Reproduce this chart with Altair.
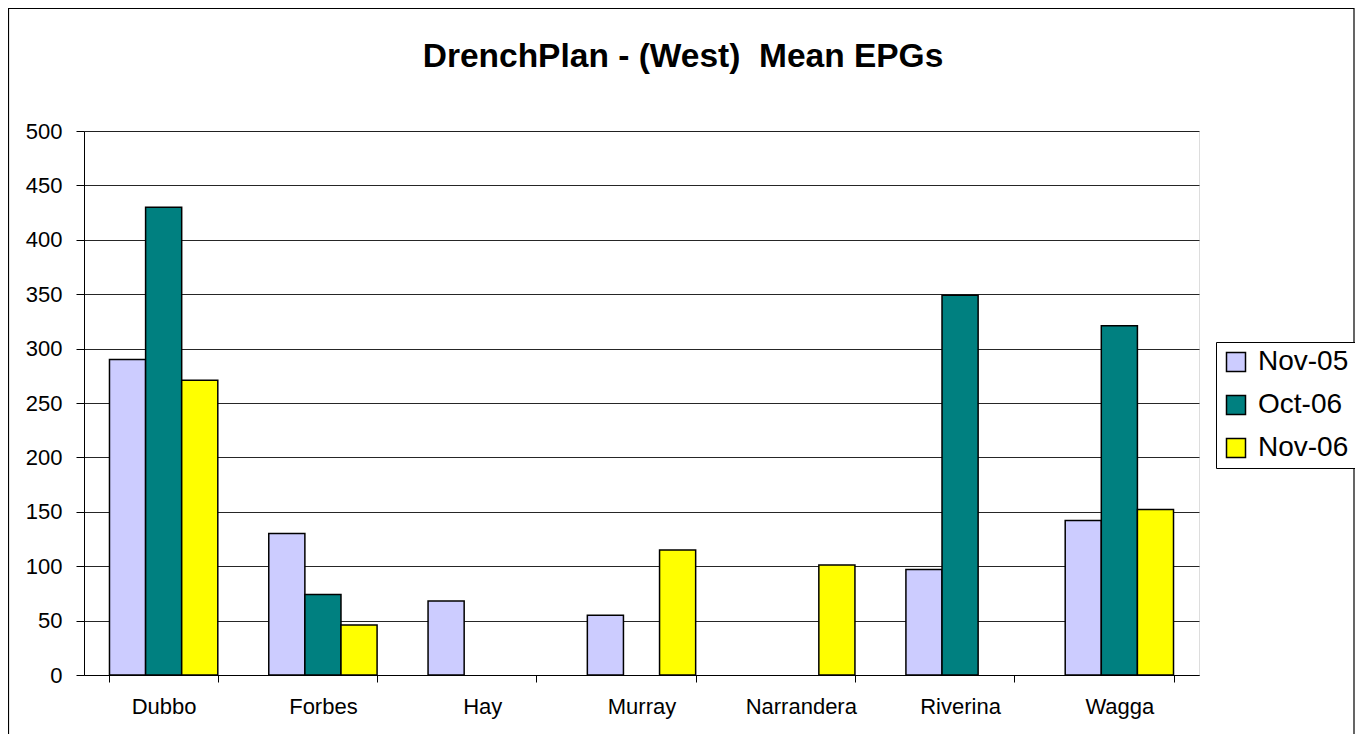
import altair as alt
import pandas as pd

title_text = "DrenchPlan - (West)\u00a0 Mean EPGs"
sites = ["Dubbo", "Forbes", "Hay", "Murray", "Narrandera", "Riverina", "Wagga"]
series = ["Nov-05", "Oct-06", "Nov-06"]
nov05 = [290, 130, 68, 55, None, 97, 142]
oct06 = [430, 74, None, None, None, 349, 321]
nov06 = [271, 46, None, 115, 101, None, 152]
colors = ["#CCCCFF", "#008080", "#FFFF00"]

rows = []
for s, vals in zip(series, [nov05, oct06, nov06]):
    for site, v in zip(sites, vals):
        if v is not None:
            rows.append({"site": site, "series": s, "value": v})
df = pd.DataFrame(rows)

FONT = "Liberation Sans"

bars = alt.Chart(df).mark_bar(stroke="black", strokeWidth=1.5).encode(
    x=alt.X("site:N", sort=sites, title=None,
            scale=alt.Scale(paddingInner=0.32, paddingOuter=0.16),
            axis=alt.Axis(labelAngle=0, tickBand="extent", tickSize=7,
                          labelPadding=14, labelFontSize=22, labelFont=FONT,
                          labelColor="black", domainColor="black",
                          tickColor="black", grid=False)),
    xOffset=alt.XOffset("series:N", sort=series, scale=alt.Scale(domain=series)),
    y=alt.Y("value:Q", title=None,
            scale=alt.Scale(domain=[0, 500], nice=False),
            axis=alt.Axis(values=list(range(0, 501, 50)), tickSize=8,
                          labelPadding=14, labelFontSize=22, labelFont=FONT,
                          labelColor="black", domainColor="black",
                          tickColor="black", grid=True, gridColor="black",
                          gridOpacity=0.85)),
    fill=alt.Fill("series:N", sort=series,
                  scale=alt.Scale(domain=series, range=colors),
                  legend=alt.Legend(title=None, orient="none",
                                    legendX=1132, legendY=211,
                                    symbolType="square", symbolSize=361,
                                    symbolStrokeColor="black",
                                    symbolStrokeWidth=1.5, symbolOpacity=1,
                                    labelFontSize=28, labelFont=FONT,
                                    labelColor="black", rowPadding=15,
                                    padding=6, strokeColor="black",
                                    fillColor="white", labelOffset=8)),
)

border = alt.Chart(pd.DataFrame({"a": [0]})).mark_rect(
    fill=None, stroke="black", strokeWidth=1.2
).encode(x=alt.value(-75.5), x2=alt.value(1270), y=alt.value(-122.5), y2=alt.value(620))

title = alt.Chart(pd.DataFrame({"t": [title_text]})).mark_text(
    font=FONT, fontSize=33.5, fontWeight="bold", color="black",
    align="center", baseline="alphabetic"
).encode(text="t:N", x=alt.value(599), y=alt.value(-64))

chart = alt.layer(border, bars, title).properties(
    width=1115, height=544,
    autosize=alt.AutoSizeParams(type="none"),
    padding={"left": 76, "top": 123, "right": 156, "bottom": 59},
).configure_view(stroke="#808080", strokeWidth=1.2).configure(background="white")

chart.save("out.html", embed_options={"renderer": "svg", "actions": False})
